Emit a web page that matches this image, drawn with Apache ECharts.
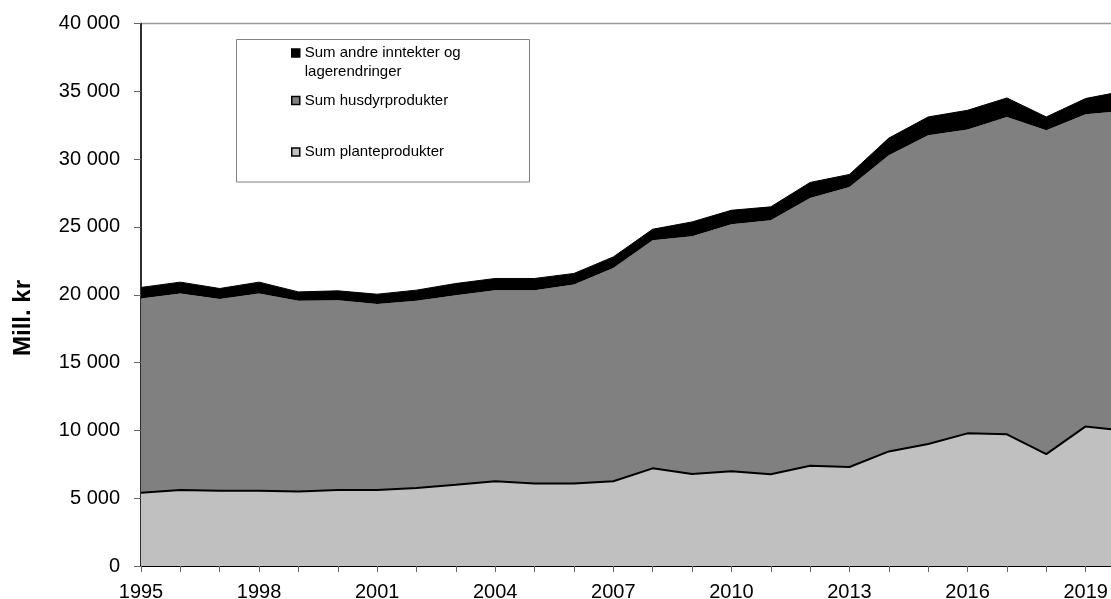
<!DOCTYPE html>
<html>
<head>
<meta charset="utf-8">
<script src="https://cdn.jsdelivr.net/npm/echarts@6/dist/echarts.min.js"></script>
<style>
html,body{margin:0;padding:0;background:#fff;}
#chart{width:1111px;height:599px;}
</style>
</head>
<body>
<div id="chart"></div>
<script>
// Data (Mill. kr)
const years = ['1995','1996','1997','1998','1999','2000','2001','2002','2003','2004','2005','2006','2007','2008','2009','2010','2011','2012','2013','2014','2015','2016','2017','2018','2019','2020'];
const seriesNames = ['Sum planteprodukter','Sum husdyrprodukter','Sum andre inntekter og lagerendringer'];
const planteprodukter = [5400,5600,5550,5550,5500,5600,5600,5750,5990,6240,6090,6090,6250,7200,6780,6980,6760,7390,7300,8450,8990,9780,9710,8250,10290,9960];
const husdyrprodukter = [14330,14500,14130,14550,14050,14000,13710,13800,13980,14100,14250,14670,15730,16820,17540,18220,18740,19750,20650,21840,22770,22400,23400,23880,23020,23610];
const andreInntekter = [810,830,780,830,660,690,730,790,860,860,860,810,810,810,1050,1030,980,1140,920,1260,1350,1420,1400,980,1160,1460];
const yTicks = [0,5000,10000,15000,20000,25000,30000,35000,40000];
const yAxisTitle = 'Mill. kr';

const fmt = v => String(v).replace(/\B(?=(\d{3})+(?!\d))/g, ' ');
const FONT = '"Liberation Sans", Arial, sans-serif';

const chart = echarts.init(document.getElementById('chart'), null, {renderer:'canvas'});

function legendDef(name, fill, left, top, multi) {
  return {
    data:[{name:name, icon:'rect', itemStyle:{color:fill, borderColor:'#000', borderWidth:1.5}}],
    left:left, top:top, padding:0, itemWidth:8, itemHeight:8,
    selectedMode:false,
    formatter: multi ? (n => '\n' + n.replace(' lagerendringer','\nlagerendringer')) : undefined,
    textStyle: {fontSize:15, color:'#000', fontFamily:FONT, lineHeight:19}
  };
}

const option = {
  animation:false,
  backgroundColor:'#fff',
  grid:{left:141, right:-14, top:23.5, bottom:33, outerBoundsMode:'none', containLabel:false,
        show:true, borderColor:'#999', borderWidth:1.5, backgroundColor:'transparent'},
  legend:[
    legendDef(seriesNames[2], '#000000', 291, 24.5, true),
    legendDef(seriesNames[1], '#808080', 291, 91, false),
    legendDef(seriesNames[0], '#C0C0C0', 291, 142.5, false)
  ],
  xAxis:{
    type:'category', data:years, boundaryGap:false,
    axisLine:{show:true, lineStyle:{color:'#000', width:2}},
    axisTick:{show:true, interval:0, length:6, lineStyle:{color:'#666', width:1}},
    axisLabel:{interval:2, fontSize:20, color:'#000', margin:16, fontFamily:FONT},
    splitLine:{show:false}
  },
  yAxis:{
    type:'value', min:yTicks[0], max:yTicks[yTicks.length-1], interval:yTicks[1]-yTicks[0],
    axisLine:{show:true, lineStyle:{color:'#000', width:1.5}},
    axisTick:{show:true, length:7, lineStyle:{color:'#666', width:1}},
    axisLabel:{formatter:fmt, fontSize:20, color:'#000', margin:21, fontFamily:FONT},
    splitLine:{show:false}
  },
  series:[
    {name:seriesNames[0], type:'line', stack:'tot', data:planteprodukter, showSymbol:false, z:4,
     lineStyle:{color:'#000', width:2}, areaStyle:{color:'#C0C0C0', opacity:1}, itemStyle:{color:'#C0C0C0'}},
    {name:seriesNames[1], type:'line', stack:'tot', data:husdyrprodukter, showSymbol:false, z:2,
     lineStyle:{color:'#808080', width:0}, areaStyle:{color:'#808080', opacity:1}, itemStyle:{color:'#808080'}},
    {name:seriesNames[2], type:'line', stack:'tot', data:andreInntekter, showSymbol:false, z:3,
     lineStyle:{color:'#000', width:1}, areaStyle:{color:'#000', opacity:1}, itemStyle:{color:'#000'}}
  ],
  graphic:[
    {type:'rect', shape:{x:236.5, y:39.5, width:293, height:142.5}, style:{fill:'none', stroke:'#808080', lineWidth:1}, z:10},
    {type:'text', x:23, y:318, rotation:Math.PI/2, style:{text:yAxisTitle, font:'bold 24px ' + FONT, fill:'#000', align:'center', verticalAlign:'middle'}, z:10}
  ]
};
chart.setOption(option);
</script>
</body>
</html>
